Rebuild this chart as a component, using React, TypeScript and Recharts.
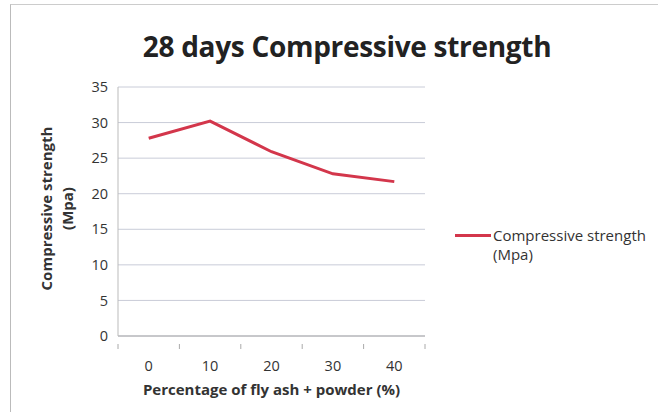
import { LineChart, Line, XAxis, YAxis, CartesianGrid, Label } from 'recharts'

const percentages = ['0', '10', '20', '30', '40']
const strengthMpa = [27.8, 30.2, 25.9, 22.8, 21.7]
const yTicks = [0, 5, 10, 15, 20, 25, 30, 35]

const data = percentages.map((p, i) => ({ pct: p, strength: strengthMpa[i] }))

const FONT = '"Open Sans", Lato, sans-serif'
const PLOT_LEFT = 118
const PLOT_RIGHT = 425
const BAND = (PLOT_RIGHT - PLOT_LEFT) / percentages.length

const XTick = ({ x, y, payload, index }: any) => {
  const last = index === percentages.length - 1
  return (
    <g>
      <line x1={x - BAND / 2} x2={x - BAND / 2} y1={y} y2={y + 5} stroke="#aaa" />
      {last && <line x1={x + BAND / 2} x2={x + BAND / 2} y1={y} y2={y + 5} stroke="#aaa" />}
      <text x={x} y={y + 22} dy="0.35em" textAnchor="middle" fontSize={14.5} fill="#333" fontFamily={FONT}>
        {payload.value}
      </text>
    </g>
  )
}

const YLabel = ({ viewBox }: any) => {
  const cy = viewBox.y + viewBox.height / 2 - 3
  return (
    <g fontFamily={FONT} fontSize={15} fontWeight={700} fill="#333" textAnchor="middle">
      <text transform={`translate(47, ${cy}) rotate(-90)`} dy="0.35em">Compressive strength</text>
      <text transform={`translate(68, ${cy}) rotate(-90)`} dy="0.35em">(Mpa)</text>
    </g>
  )
}

export default function App() {
  return (
    <div style={{ position: 'absolute', left: 0, top: 0, width: 658, height: 412, background: '#fff', fontFamily: FONT }}>
      <div style={{ position: 'absolute', left: 10, top: 4, width: 660, height: 420, borderLeft: '1px solid #bbb', borderTop: '1px solid #ccc' }} />
      <div style={{ position: 'absolute', left: 0, top: 27, width: 694, textAlign: 'center', fontSize: 28, fontWeight: 700, color: '#222', letterSpacing: -0.3 }}>
        28 days Compressive strength
      </div>
      <LineChart width={658} height={412} data={data} margin={{ top: 87, right: 658 - PLOT_RIGHT, bottom: 0, left: 0 }}>
        <CartesianGrid vertical={false} stroke="#c9ccd8" />
        <XAxis
          dataKey="pct"
          height={76}
          tick={<XTick />}
          tickLine={false}
          axisLine={{ stroke: '#aaa' }}
          interval={0}
          padding={{ left: BAND / 2, right: BAND / 2 }}
        >
          <Label
            value="Percentage of fly ash + powder (%)"
            position="insideBottom"
            offset={17}
            style={{ fontSize: 15, fontWeight: 700, fill: '#333', fontFamily: FONT }}
          />
        </XAxis>
        <YAxis
          width={PLOT_LEFT}
          domain={[0, 35]}
          ticks={yTicks}
          tickSize={0}
          tickMargin={10}
          tickLine={false}
          axisLine={{ stroke: '#bbb' }}
          tick={{ fontSize: 14.5, fill: '#333', fontFamily: FONT }}
          label={<YLabel />}
        />
        <Line
          type="linear"
          dataKey="strength"
          stroke="#d3364b"
          strokeWidth={3}
          dot={false}
          isAnimationActive={false}
        />
      </LineChart>
      <div style={{ position: 'absolute', left: 455, top: 226, fontSize: 15, color: '#333', lineHeight: '19px' }}>
        <div style={{ display: 'flex', alignItems: 'center' }}>
          <span style={{ display: 'inline-block', width: 36, height: 3, background: '#d3364b', marginRight: 2 }} />
          Compressive strength
        </div>
        <div style={{ marginLeft: 38 }}>(Mpa)</div>
      </div>
    </div>
  )
}
